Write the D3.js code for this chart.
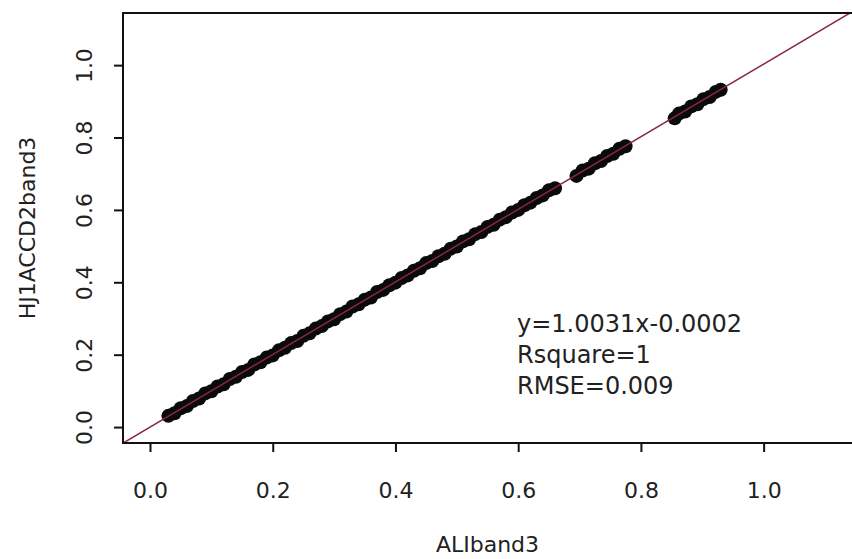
<!DOCTYPE html>
<html>
<head>
<meta charset="utf-8">
<script src="https://cdn.jsdelivr.net/npm/d3@7"></script>
<style>
  body { margin: 0; background: #fff; }
  svg text { font-family: "DejaVu Sans", sans-serif; fill: #222; }
</style>
</head>
<body>
<svg id="canvas" width="852" height="559"></svg>
<script>
// ALI band3 vs HJ1A CCD2 band3
const aliBand3 = [
  0.03, 0.04, 0.05, 0.06, 0.07, 0.08, 0.09, 0.10, 0.11, 0.12,
  0.13, 0.14, 0.15, 0.16, 0.17, 0.18, 0.19, 0.20, 0.21, 0.22,
  0.23, 0.24, 0.25, 0.26, 0.27, 0.28, 0.29, 0.30, 0.31, 0.32,
  0.33, 0.34, 0.35, 0.36, 0.37, 0.38, 0.39, 0.40, 0.41, 0.42,
  0.43, 0.44, 0.45, 0.46, 0.47, 0.48, 0.49, 0.50, 0.51, 0.52,
  0.53, 0.54, 0.55, 0.56, 0.57, 0.58, 0.59, 0.60, 0.61, 0.62,
  0.63, 0.64, 0.65, 0.66,
  0.695, 0.705, 0.715, 0.725, 0.735, 0.745, 0.755, 0.765, 0.775,
  0.855, 0.862, 0.872, 0.882, 0.892, 0.902, 0.912, 0.922, 0.930
];
const hjBand3 = [
  0.031, 0.038, 0.052, 0.058, 0.072, 0.079, 0.093, 0.099, 0.112, 0.118,
  0.133, 0.139, 0.152, 0.158, 0.173, 0.179, 0.192, 0.198, 0.212, 0.219,
  0.232, 0.238, 0.252, 0.259, 0.272, 0.279, 0.292, 0.298, 0.312, 0.319,
  0.333, 0.339, 0.352, 0.358, 0.373, 0.379, 0.392, 0.399, 0.412, 0.419,
  0.432, 0.439, 0.453, 0.459, 0.472, 0.479, 0.493, 0.499, 0.513, 0.519,
  0.533, 0.539, 0.553, 0.559, 0.573, 0.580, 0.593, 0.600, 0.613, 0.620,
  0.633, 0.640, 0.654, 0.660,
  0.694, 0.709, 0.714, 0.729, 0.735, 0.749, 0.755, 0.769, 0.776,
  0.853, 0.866, 0.872, 0.886, 0.892, 0.906, 0.912, 0.926, 0.932
];

const fitSlope = 1.0031;
const fitIntercept = -0.0002;
const statLines = ['y=1.0031x-0.0002', 'Rsquare=1', 'RMSE=0.009'];
const tickValues = [0, 0.2, 0.4, 0.6, 0.8, 1.0];
const axisDomain = [-0.044, 1.144];

const svg = d3.select('#canvas');
const plotLeft = 123, plotRight = 852, plotTop = 13, plotBottom = 443;

const x = d3.scaleLinear().domain(axisDomain).range([plotLeft, plotRight]);
const y = d3.scaleLinear().domain(axisDomain).range([plotBottom, plotTop]);

svg.append('clipPath').attr('id', 'plotClip')
  .append('rect')
  .attr('x', plotLeft).attr('y', plotTop)
  .attr('width', plotRight - plotLeft + 4).attr('height', plotBottom - plotTop);

// points
svg.append('g')
  .attr('clip-path', 'url(#plotClip)')
  .selectAll('circle')
  .data(aliBand3.map((v, i) => [v, hjBand3[i]]))
  .enter()
  .append('circle')
  .attr('cx', d => x(d[0]))
  .attr('cy', d => y(d[1]))
  .attr('r', 7)
  .attr('fill', '#0a0a0a');

// regression line
svg.append('line')
  .attr('clip-path', 'url(#plotClip)')
  .attr('x1', x(axisDomain[0]))
  .attr('y1', y(fitSlope * axisDomain[0] + fitIntercept))
  .attr('x2', x(axisDomain[1]))
  .attr('y2', y(fitSlope * axisDomain[1] + fitIntercept))
  .attr('stroke', '#8b2252')
  .attr('stroke-width', 1.5);

// box
svg.append('rect')
  .attr('x', plotLeft).attr('y', plotTop)
  .attr('width', plotRight - plotLeft + 3).attr('height', plotBottom - plotTop)
  .attr('fill', 'none')
  .attr('stroke', '#111')
  .attr('stroke-width', 2);

// x axis
let xAxis = svg.append('g')
  .attr('transform', 'translate(0,' + plotBottom + ')')
  .call(d3.axisBottom(x).tickValues(tickValues).tickSize(9).tickFormat(d3.format('.1f')));
xAxis.select('.domain').remove();
xAxis.selectAll('line').attr('stroke', '#111').attr('stroke-width', 2);
xAxis.selectAll('text')
  .attr('y', 55).attr('dy', null)
  .style('font-size', '22px');

// y axis
let yAxis = svg.append('g')
  .attr('transform', 'translate(' + plotLeft + ',0)')
  .call(d3.axisLeft(y).tickValues(tickValues).tickSize(9).tickFormat(d3.format('.1f')));
yAxis.select('.domain').remove();
yAxis.selectAll('line').attr('stroke', '#111').attr('stroke-width', 2);
yAxis.selectAll('text')
  .attr('x', null).attr('dy', null)
  .attr('text-anchor', 'middle')
  .attr('transform', 'translate(-31,0) rotate(-90)')
  .style('font-size', '22px');

// titles
svg.append('text')
  .attr('x', (plotLeft + plotRight) / 2)
  .attr('y', 552)
  .attr('text-anchor', 'middle')
  .style('font-size', '22px')
  .text('ALIband3');

svg.append('text')
  .attr('transform', 'translate(35,' + (plotTop + plotBottom) / 2 + ') rotate(-90)')
  .attr('text-anchor', 'middle')
  .style('font-size', '22px')
  .text('HJ1ACCD2band3');

// fit stats
svg.append('g').selectAll('text')
  .data(statLines)
  .enter()
  .append('text')
  .attr('x', 517)
  .attr('y', (d, i) => 332 + i * 31)
  .style('font-size', '24px')
  .text(d => d);
</script>
</body>
</html>
